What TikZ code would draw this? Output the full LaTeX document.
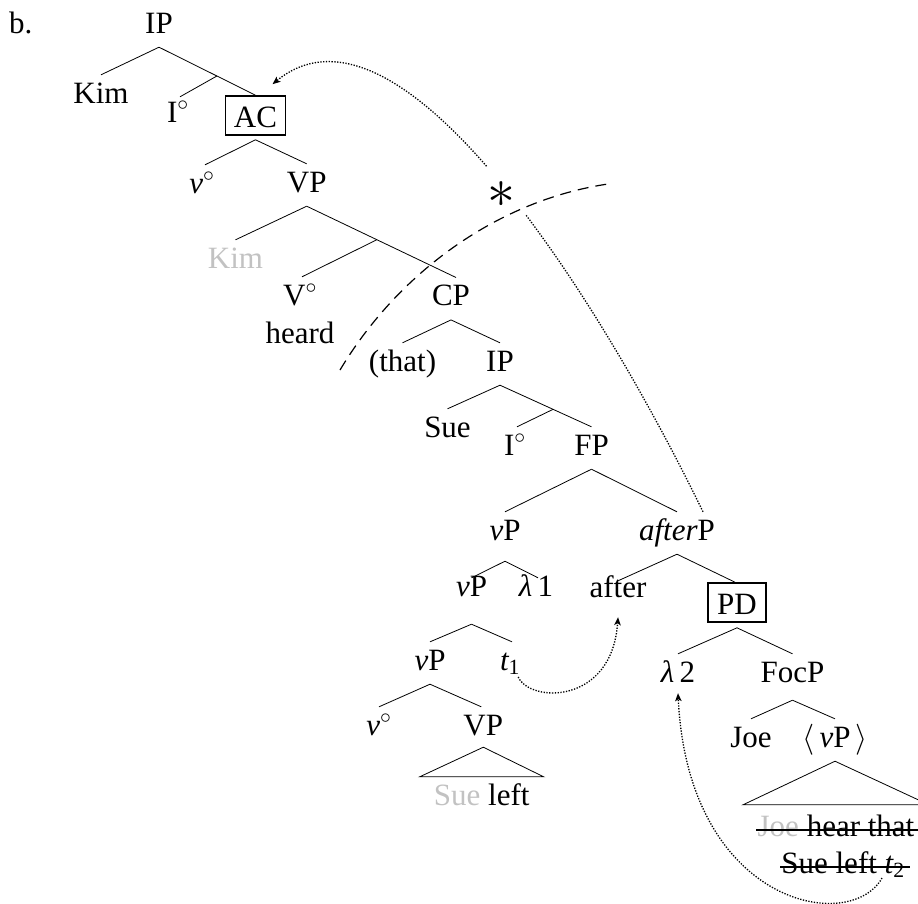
\RequirePackage{fix-cm}
\documentclass[tikz,border=0pt]{standalone}
\usepackage{fontspec}
\setmainfont{Liberation Serif}
\usetikzlibrary{arrows.meta,calc}
\definecolor{lightgrey}{gray}{0.76}
\begin{document}
\begin{tikzpicture}[x=1pt,y=-1pt,
  bigfont/.style={font=\fontsize{31}{37}\selectfont},
  lbl/.style={bigfont,anchor=base,inner xsep=1pt,inner ysep=8pt,text height=20pt,text depth=6pt},
  boxed/.style={bigfont,draw,line width=1.6pt,minimum width=60pt,minimum height=39pt,inner sep=0pt,text height=24pt,text depth=0pt},
  branch/.style={line width=0.8pt},
  strike/.style={line width=1.5pt},
  mv/.style={line width=1.3pt,dash pattern=on 1.3pt off 1.5pt,-{Stealth[length=8pt,width=6.5pt,inset=2pt]}},
  dashline/.style={line width=1.2pt,dash pattern=on 11pt off 7pt}]
\useasboundingbox (0,0) rectangle (918,903);

% labels
\node[lbl,anchor=base west] (lab) at (8,33) {b.};
\node[lbl] (ipa) at (159,33) {IP};
\node[lbl] (kim) at (101,103) {Kim};
\node[lbl] (i1) at (178,122) {I$^\circ$};
\node[boxed] (AC) at (255.5,115.5) {AC};
\node[lbl] (v1) at (202,193) {{\itshape v}$^\circ$};
\node[lbl] (vp1) at (306.7,192) {VP};
\node[lbl] (kimg) at (235.5,268) {\textcolor{lightgrey}{Kim}};
\node[lbl] (V) at (300,305) {V$^\circ$};
\node[lbl] (heard) at (300,343) {heard};
\node[lbl] (cp) at (451,305.7) {CP};
\node[lbl] (that) at (402.5,371) {(that)};
\node[lbl] (ip2) at (500,371) {IP};
\node[lbl] (sue) at (447.5,437) {Sue};
\node[lbl] (i2) at (515,455) {I$^\circ$};
\node[lbl] (fp) at (591.5,455) {FP};
\node[lbl] (vp2) at (505,540) {{\itshape v}P};
\node[lbl] (afterp) at (677,540) {{\itshape after}P};
\node[lbl] (vp3) at (471.5,596) {{\itshape v}P};
\node[lbl] (lam1) at (536,596) {{\itshape λ}\,1};
\node[lbl] (after) at (618,597) {after};
\node[boxed,minimum width=58pt] (PD) at (737,602.5) {PD};
\node[lbl] (vp4) at (430,670) {{\itshape v}P};
\node[lbl] (t1) at (510,670) {{\itshape t}\textsubscript{1}};
\node[lbl] (lam2) at (678,682) {{\itshape λ}\,2};
\node[lbl] (focp) at (792.5,682) {FocP};
\node[lbl] (v2) at (379,735) {{\itshape v}$^\circ$};
\node[lbl] (vp5) at (483.3,735) {VP};
\node[lbl] (sueleft) at (481.7,805) {\textcolor{lightgrey}{Sue} left};
\node[lbl] (joe) at (751,747) {Joe};
\node[lbl] (vpang) at (835,747) {$\langle$\,{\itshape v}P\,$\rangle$};
\node[lbl] (jht) at (836,836) {\textcolor{lightgrey}{Joe} hear that};
\node[lbl] (slt) at (843,873) {Sue left {\itshape t}\textsubscript{2}};

% branches
\draw[branch] (ipa.south) -- (kim.north);
\draw[branch] (ipa.south) -- (AC.north);
\coordinate (ipM) at ($(ipa.south)!0.6!(AC.north)$);
\draw[branch] (ipM) -- ([xshift=2pt,yshift=-3pt]i1.north);
\coordinate (acA) at ([yshift=-4pt]AC.south);
\draw[branch] (acA) -- ([xshift=3pt]v1.north);
\draw[branch] (acA) -- (vp1.north);
\draw[branch] (vp1.south) -- (kimg.north);
\draw[branch] (vp1.south) -- ([xshift=5pt]cp.north);
\coordinate (vpM) at ($(vp1.south)!0.47!([xshift=5pt]cp.north)$);
\draw[branch] (vpM) -- ([xshift=2pt]V.north);
\draw[branch] (cp.south) -- (that.north);
\draw[branch] (cp.south) -- (ip2.north);
\draw[branch] (ip2.south) -- (sue.north);
\draw[branch] (ip2.south) -- (fp.north);
\coordinate (ipM2) at ($(ip2.south)!0.58!(fp.north)$);
\draw[branch] (ipM2) -- ([xshift=2pt]i2.north);
\draw[branch] (fp.south) -- (vp2.north);
\draw[branch] (fp.south) -- (afterp.north);
\coordinate (vp2A) at ([yshift=-7pt]vp2.south);
\draw[branch] (vp2A) -- ([yshift=-10pt]vp3.north);
\draw[branch] (vp2A) -- ([xshift=2pt,yshift=-10pt]lam1.north);
\draw[branch] (afterp.south) -- ([yshift=-12pt]after.north);
\draw[branch] (afterp.south) -- ([xshift=-2pt]PD.north);
\coordinate (vp3A) at ([yshift=-14pt]vp3.south);
\draw[branch] (vp3A) -- (vp4.north);
\draw[branch] (vp3A) -- ([xshift=2pt]t1.north);
\draw[branch] (vp4.south) -- (v2.north);
\draw[branch] (vp4.south) -- ([xshift=-2pt]vp5.north);
\draw[branch] ([yshift=2pt]vp5.south) -- ([xshift=-62pt]sueleft.north) -- ([xshift=62pt]sueleft.north) -- cycle;
\coordinate (pdA) at ([yshift=-5pt]PD.south);
\draw[branch] (pdA) -- (lam2.north);
\draw[branch] (pdA) -- (focp.north);
\coordinate (focA) at ([yshift=-4pt]focp.south);
\draw[branch] (focA) -- (joe.north);
\draw[branch] (focA) -- (vpang.north);
\draw[branch] (vpang.south) -- ([xshift=-93pt,yshift=3pt]jht.north) -- ([xshift=93pt,yshift=3pt]jht.north) -- cycle;

% strike-through
\draw[strike] ([yshift=6pt]jht.base west) -- ([yshift=6pt,xshift=3pt]jht.base east);
\draw[strike] ([yshift=6pt]slt.base west) -- ([yshift=6pt,xshift=4pt]slt.base east);

% movement arrows
\draw[mv] ([xshift=26pt]afterp.north) .. controls (600,300) and (400,-20) .. ([xshift=17pt,yshift=11pt]AC.north);
\node[bigfont,fill=white,circle,inner sep=9pt] (star) at (501,195) {\scalebox{1.8}{$*$}};
\coordinate (dashS) at (340,370);
\coordinate (dashE) at (608,184);
\draw[dashline] (dashS) .. controls (400,270) and (500,200) .. (dashE);
\draw[mv] ([xshift=-3pt,yshift=-7pt]t1.base east) .. controls (530,703) and (612,705) .. ([yshift=-6pt]after.south);
\coordinate (t2s) at (882,878);
\draw[mv] (t2s) .. controls (850,935) and (688,905) .. ([yshift=3pt]lam2.south);
\end{tikzpicture}
\end{document}
